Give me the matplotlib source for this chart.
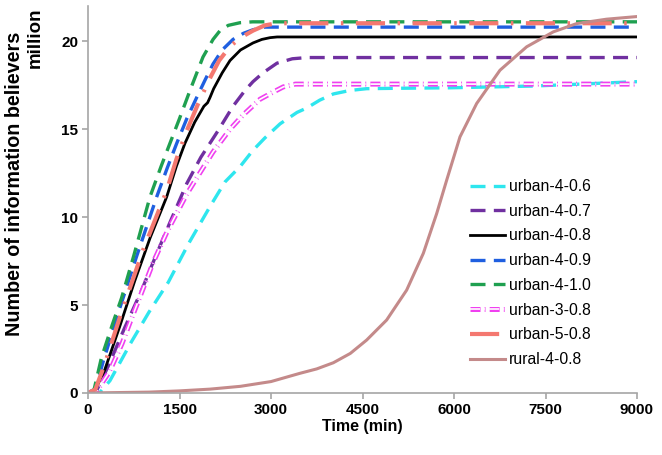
import matplotlib
matplotlib.use("Agg")
import matplotlib.pyplot as plt
import matplotlib.patheffects as pe

plt.rcParams['font.family'] = ['Liberation Sans', 'DejaVu Sans']

# ---- data (time in min, believers in million) ----
t_u406 = [0, 200, 360, 710, 1000, 1317, 1650, 2000, 2246, 2500, 2705, 2900, 3148, 3426, 3585, 3800, 4022, 4295, 4568, 5000, 5934, 7300, 8000, 8934, 9000]
v_u406 = [0, 0.05, 0.7, 2.9, 4.6, 6.3, 8.5, 10.6, 12.0, 12.9, 13.8, 14.5, 15.3, 15.95, 16.2, 16.65, 17.0, 17.2, 17.3, 17.32, 17.35, 17.45, 17.55, 17.69, 17.7]

t_u407 = [0, 150, 328, 600, 874, 1100, 1344, 1618, 1850, 2130, 2377, 2574, 2705, 2869, 3098, 3350, 3590, 9000]
v_u407 = [0, 0.2, 1.5, 3.7, 5.8, 7.7, 9.7, 11.9, 13.4, 14.9, 16.3, 17.2, 17.7, 18.2, 18.75, 19.0, 19.07, 19.07]

t_u408 = [0, 120, 273, 519, 765, 1016, 1290, 1450, 1590, 1750, 1900, 1960, 2000, 2060, 2200, 2328, 2500, 2705, 2850, 2984, 3100, 9000]
v_u408 = [0, 0.2, 1.3, 3.77, 6.36, 8.8, 11.15, 12.9, 14.2, 15.4, 16.3, 16.5, 16.8, 17.3, 18.2, 18.9, 19.5, 19.9, 20.1, 20.2, 20.24, 20.24]

t_u409 = [0, 120, 250, 500, 800, 1126, 1300, 1454, 1620, 1782, 1920, 2049, 2200, 2377, 2550, 2705, 2900, 9000]
v_u409 = [0, 0.2, 1.8, 4.6, 7.8, 11.15, 12.8, 14.19, 15.6, 16.8, 17.8, 18.7, 19.5, 20.1, 20.45, 20.65, 20.8, 20.8]

t_u410 = [0, 100, 220, 400, 550, 750, 1016, 1200, 1344, 1500, 1672, 1885, 2050, 2164, 2300, 2492, 2700, 9000]
v_u410 = [0, 0.2, 2.0, 3.9, 5.4, 7.8, 11.15, 12.9, 14.2, 15.6, 17.2, 19.1, 20.1, 20.6, 20.9, 21.05, 21.1, 21.1]

t_u308 = [0, 150, 350, 557, 710, 900, 1066, 1300, 1618, 1850, 2049, 2330, 2541, 2820, 3033, 3200, 3400, 9000]
v_u308 = [0, 0.15, 1.2, 2.8, 4.2, 5.9, 7.4, 9.2, 11.3, 12.6, 13.7, 15.0, 15.8, 16.7, 17.1, 17.4, 17.56, 17.56]

t_u508 = [0, 120, 270, 550, 900, 1290, 1450, 1618, 1800, 2000, 2150, 2328, 2500, 2705, 2900, 3098, 9000]
v_u508 = [0, 0.2, 1.6, 4.6, 8.1, 11.5, 13.3, 14.9, 16.4, 17.9, 18.9, 19.7, 20.2, 20.6, 20.9, 21.02, 21.02]

t_r408 = [0, 1000, 1500, 2000, 2500, 3000, 3475, 3750, 4022, 4300, 4568, 4896, 5224, 5497, 5716, 5880, 6098, 6372, 6754, 7191, 7628, 8011, 8500, 9000]
v_r408 = [0, 0.05, 0.12, 0.22, 0.38, 0.65, 1.12, 1.37, 1.72, 2.25, 3.01, 4.15, 5.85, 7.94, 10.2, 12.1, 14.56, 16.46, 18.35, 19.68, 20.53, 21.0, 21.25, 21.4]

x_ticks = [0, 1500, 3000, 4500, 6000, 7500, 9000]
y_ticks = [0, 5, 10, 15, 20]

fig = plt.figure(figsize=(6.62, 4.55), dpi=100)
ax = fig.add_axes([88/662, 1-393/455, (637-88)/662, (393-6)/455])

ax.plot(t_u406, v_u406, color='#2EE6EE', lw=2.4, dashes=(4.5, 2.5), label='urban-4-0.6')
ax.plot(t_u407, v_u407, color='#7030A0', lw=2.4, dashes=(4.5, 2.5), label='urban-4-0.7')
ax.plot(t_u408, v_u408, color='black', lw=2.0, label='urban-4-0.8')
ax.plot(t_u409, v_u409, color='#1F5FE0', lw=2.4, dashes=(4.5, 2.5), label='urban-4-0.9')
ax.plot(t_u410, v_u410, color='#1FA050', lw=2.4, dashes=(4.5, 2.5), label='urban-4-1.0')
ax.plot(t_u308, v_u308, color='white', lw=1.2, dashes=(6, 2.5, 0.5, 2.5), label='urban-3-0.8',
        path_effects=[pe.Stroke(linewidth=3.6, foreground='#F040F0'), pe.Normal()])
ax.plot(t_u508, v_u508, color='#F47870', lw=3.0, dashes=(7, 3, 0.6, 3), label='urban-5-0.8')
ax.plot(t_r408, v_r408, color='#C48A8A', lw=2.2, label='rural-4-0.8')

ax.set_xlim(0, 9000)
ax.set_ylim(0, 22)
ax.set_xticks(x_ticks)
ax.set_yticks(y_ticks)
for s in ['top', 'right']:
    ax.spines[s].set_visible(False)
for s in ['left', 'bottom']:
    ax.spines[s].set_color('#A6A6A6')
    ax.spines[s].set_linewidth(1.2)
ax.tick_params(axis='both', direction='out', length=4, color='#A6A6A6', width=1.2,
               labelsize=11, pad=3)
for lab in ax.get_xticklabels() + ax.get_yticklabels():
    lab.set_fontweight('bold')

ax.set_xlabel('Time (min)', fontsize=11.5, fontweight='bold', labelpad=2)
fig.text(15/662, 1-184/455, 'Number of information believers', rotation=90,
         ha='center', va='center', fontsize=14.2, fontweight='bold')
fig.text(35/662, 1-38/455, 'million', rotation=90,
         ha='center', va='center', fontsize=13.5, fontweight='bold')

leg = ax.legend(loc='upper left', bbox_to_anchor=(470/662, 1-179/455), bbox_transform=fig.transFigure,
                frameon=False, fontsize=11.3, handlelength=2.2, handletextpad=0.3,
                labelspacing=0.62, borderpad=0, borderaxespad=0)

fig.savefig('out.png', dpi=100)
